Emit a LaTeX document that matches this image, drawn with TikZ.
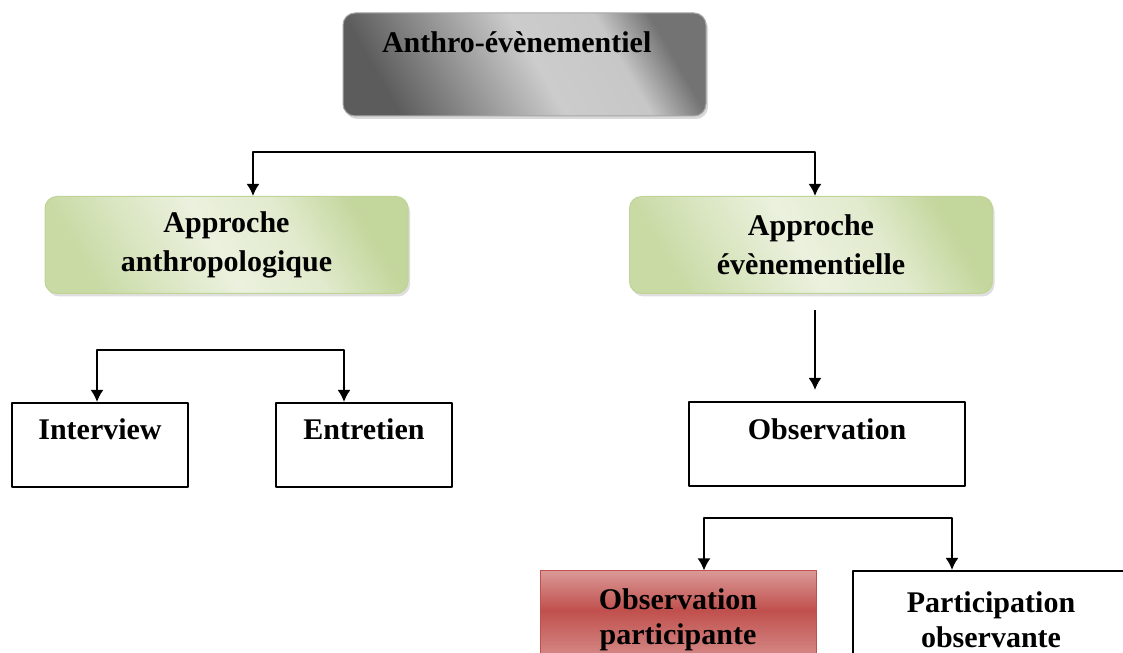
\documentclass[tikz,border=0pt]{standalone}
\usepackage{fontspec}
\setmainfont{Liberation Serif}
\usetikzlibrary{arrows.meta,shadows}
\definecolor{greenlight}{HTML}{EBF1DE}
\definecolor{greendark}{HTML}{C3D69B}
\definecolor{greenline}{HTML}{BFD496}
\definecolor{redlight}{HTML}{DA9896}
\definecolor{reddark}{HTML}{C0504D}
\pgfdeclareverticalshading{anthroshade}{100bp}{color(0bp)=(black!64); color(25bp)=(black!64); color(35bp)=(black!48); color(52bp)=(black!20); color(66bp)=(black!22); color(75bp)=(black!55); color(100bp)=(black!55)}
\pgfdeclareverticalshading{approshade}{100bp}{color(0bp)=(greendark!85!greenlight); color(25bp)=(greendark!85!greenlight); color(35bp)=(greendark!45!greenlight); color(48bp)=(greenlight); color(62bp)=(greenlight!75!greendark); color(75bp)=(greendark); color(100bp)=(greendark)}
\pgfdeclareverticalshading{redshade}{100bp}{color(0bp)=(redlight); color(25bp)=(redlight); color(55bp)=(reddark); color(75bp)=(redlight); color(100bp)=(redlight)}
\tikzset{
  topbox/.style={draw=gray!70,line width=0.5bp,rounded corners=6bp,
    shading=anthroshade,shading angle=-60,
    drop shadow={shadow xshift=1bp,shadow yshift=-1.5bp,opacity=0.3},
    minimum width=181.5bp,minimum height=51.5bp,inner xsep=0bp,
    text width=142.5bp,align=left,text height=11bp,text depth=23bp},
  approbox/.style={draw=greenline,line width=0.5bp,rounded corners=6bp,
    shading=approshade,shading angle=-60,
    drop shadow={shadow xshift=1bp,shadow yshift=-1.5bp,opacity=0.25},
    minimum width=181.5bp,minimum height=48.5bp,align=center,
    font=\bfseries\fontsize{15bp}{19.5bp}\selectfont},
  leafbox/.style={draw,line width=1bp,minimum width=88bp,minimum height=42bp,
    text height=11bp,text depth=16bp},
  partbox/.style={draw,line width=1bp,minimum width=138bp,minimum height=49bp,align=center},
  redbox/.style={draw=reddark,line width=0.5bp,shading=redshade},
}
\begin{document}
\begin{tikzpicture}[>={Latex[length=6bp,width=6.5bp]},line join=bevel,line width=1bp,
  font=\bfseries\fontsize{15bp}{17.5bp}\selectfont]
\useasboundingbox (0bp,0bp) rectangle (561.5bp,326.5bp);
%%
\node (anthro) at (262.25bp,294.25bp) [topbox] {Anthro-évènementiel};
  \node (appr_anth) at (113.25bp,204bp) [approbox] {Approche\\anthropologique};
  \node (appr_even) at (405.5bp,204bp) [approbox] {Approche\\évènementielle};
  \node (interview) at (50bp,104bp) [leafbox] {Interview};
  \node (entretien) at (182bp,104bp) [leafbox] {Entretien};
  \node (observation) at (413.5bp,104.25bp) [leafbox,minimum width=138bp] {Observation};
  \node (obs_part) at (339bp,16.5bp) [partbox,redbox] {Observation\\participante};
  \node (part_obs) at (495.5bp,16.5bp) [partbox] {Participation\\observante};
%
  \coordinate (fork_0) at (126.5bp,250.5bp);
  \coordinate (fork_1) at (407.5bp,250.5bp);
  \coordinate (fork_2) at (48.5bp,151.5bp);
  \coordinate (fork_3) at (172bp,151.5bp);
  \coordinate (fork_4) at (352bp,67.5bp);
  \coordinate (fork_5) at (476bp,67.5bp);
  \coordinate (drop_0) at (407.5bp,171.5bp);
  \coordinate (drop_1) at (407.5bp,131.5bp);
  \draw [black,<->] (appr_anth.north -| fork_0) |- (fork_1) -- (appr_even.north -| fork_1);
  \draw [black,<->] (interview.north -| fork_2) |- (fork_3) -- (entretien.north -| fork_3);
  \draw [black,->] (drop_0) -- (drop_1);
  \draw [black,<->] (obs_part.north -| fork_4) |- (fork_5) -- (part_obs.north -| fork_5);
%
\end{tikzpicture}
\end{document}
